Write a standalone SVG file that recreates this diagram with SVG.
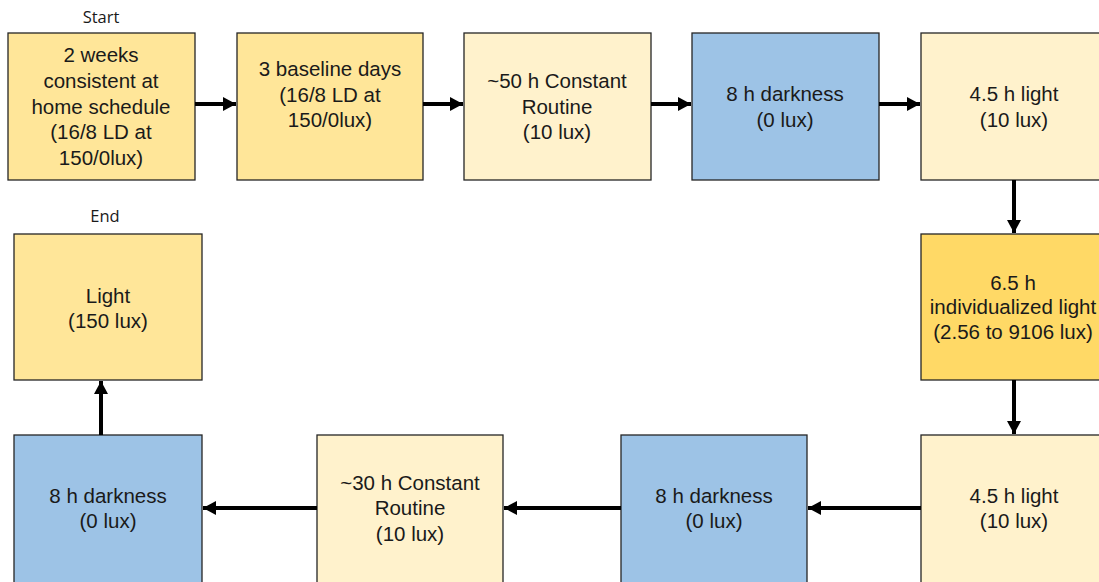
<svg xmlns="http://www.w3.org/2000/svg" width="1099" height="582" viewBox="0 0 1099 582">
<defs>
<marker id="ah" markerWidth="13" markerHeight="14" refX="13" refY="7" orient="auto" markerUnits="userSpaceOnUse">
<path d="M0,0 L13,7 L0,14 Z" fill="#000"/>
</marker>
<style>
.box{stroke:#262626;stroke-width:1.3}
.y{fill:#FFE699}
.l{fill:#FFF2CC}
.b{fill:#9DC3E6}
.g{fill:#FFD966}
.t{font-family:"Liberation Sans",Arial,sans-serif;font-size:20.5px;fill:#1a1a1a;text-anchor:middle}
.s{font-family:"Open Sans","Liberation Sans",sans-serif;font-size:16.5px;fill:#1a1a1a;text-anchor:middle}
.c{stroke:#000;stroke-width:4;fill:none;marker-end:url(#ah)}
</style>
</defs>
<text class="s" x="101" y="23">Start</text>
<text class="s" x="105" y="222">End</text>
<g id="n1"><rect class="box y" x="8" y="33" width="187" height="147"/>
<text class="t"><tspan x="101" y="62">2 weeks</tspan><tspan x="101" y="88">consistent at</tspan><tspan x="101" y="114">home schedule</tspan><tspan x="101" y="139">(16/8 LD at</tspan><tspan x="101" y="165">150/0lux)</tspan></text></g>
<g id="n2"><rect class="box y" x="237" y="33" width="186" height="147"/>
<text class="t"><tspan x="330" y="76">3 baseline days</tspan><tspan x="330" y="102">(16/8 LD at</tspan><tspan x="330" y="127">150/0lux)</tspan></text></g>
<g id="n3"><rect class="box l" x="464" y="33" width="187" height="147"/>
<text class="t"><tspan x="557" y="88">~50 h Constant</tspan><tspan x="557" y="114">Routine</tspan><tspan x="557" y="139">(10 lux)</tspan></text></g>
<g id="n4"><rect class="box b" x="692" y="33" width="187" height="147"/>
<text class="t"><tspan x="785" y="101">8 h darkness</tspan><tspan x="785" y="127">(0 lux)</tspan></text></g>
<g id="n5"><rect class="box l" x="921" y="33" width="187" height="147"/>
<text class="t"><tspan x="1014" y="101">4.5 h light</tspan><tspan x="1014" y="127">(10 lux)</tspan></text></g>
<g id="n6"><rect class="box g" x="921" y="234" width="187" height="146"/>
<text class="t"><tspan x="1013" y="290">6.5 h</tspan><tspan x="1013" y="314">individualized  light</tspan><tspan x="1013" y="339">(2.56 to 9106 lux)</tspan></text></g>
<g id="n7"><rect class="box l" x="921" y="435" width="187" height="150"/>
<text class="t"><tspan x="1014" y="503">4.5 h light</tspan><tspan x="1014" y="528">(10 lux)</tspan></text></g>
<g id="n8"><rect class="box b" x="621" y="435" width="186" height="150"/>
<text class="t"><tspan x="714" y="503">8 h darkness</tspan><tspan x="714" y="528">(0 lux)</tspan></text></g>
<g id="n9"><rect class="box l" x="317" y="435" width="186" height="150"/>
<text class="t"><tspan x="410" y="490">~30 h Constant</tspan><tspan x="410" y="515">Routine</tspan><tspan x="410" y="541">(10 lux)</tspan></text></g>
<g id="n10"><rect class="box b" x="14" y="435" width="188" height="150"/>
<text class="t"><tspan x="108" y="503">8 h darkness</tspan><tspan x="108" y="528">(0 lux)</tspan></text></g>
<g id="n11"><rect class="box y" x="14" y="234" width="188" height="146"/>
<text class="t"><tspan x="108" y="303">Light</tspan><tspan x="108" y="328">(150 lux)</tspan></text></g>
<g id="connectors">
<line class="c" x1="195" y1="104" x2="236" y2="104"/>
<line class="c" x1="423" y1="104" x2="463" y2="104"/>
<line class="c" x1="651" y1="104" x2="691" y2="104"/>
<line class="c" x1="879" y1="104" x2="920" y2="104"/>
<line class="c" x1="1014" y1="180" x2="1014" y2="233"/>
<line class="c" x1="1014" y1="380" x2="1014" y2="434"/>
<line class="c" x1="921" y1="508" x2="808" y2="508"/>
<line class="c" x1="621" y1="508" x2="504" y2="508"/>
<line class="c" x1="317" y1="508" x2="203" y2="508"/>
<line class="c" x1="101" y1="435" x2="101" y2="381"/>
</g>
</svg>
